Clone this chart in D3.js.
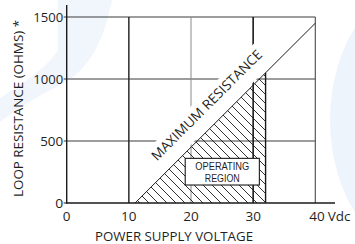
<!DOCTYPE html>
<html>
<head>
<meta charset="utf-8">
<script src="https://cdn.jsdelivr.net/npm/d3@7"></script>
<style>
  html, body { margin: 0; padding: 0; background: #fff; }
  svg { display: block; }
  text { font-family: "Open Sans", "Liberation Sans", sans-serif; font-weight: 400; fill: #1f1f1f; }
  text.box { font-family: "Liberation Sans", Arial, sans-serif; }
</style>
</head>
<body>
<script>
// ---- data ----
const xTicks = [0, 10, 20, 30, 40];
const yTicks = [0, 500, 1000, 1500];
const xUnit = "Vdc";
const xTitle = "POWER SUPPLY VOLTAGE";
const yTitle = "LOOP RESISTANCE (OHMS) *";
const maxResistance = [[11, 0], [40, 1450]];          // volts, ohms
const operatingRegion = [[11, 0], [32, 1050], [32, 0]];
const operatingLimitV = 32;
const maxLabel = "MAXIMUM RESISTANCE";
const regionLabel = ["OPERATING", "REGION"];

// ---- layout ----
const W = 355, H = 244;
const svg = d3.select("body").append("svg").attr("width", W).attr("height", H);

const x = d3.scaleLinear().domain([0, 40]).range([66.7, 315.3]);
const y = d3.scaleLinear().domain([0, 1500]).range([203, 17]);

// faint background watermark
const bg = svg.append("g");
bg.append("ellipse").attr("cx", 430).attr("cy", 120).attr("rx", 100).attr("ry", 140).attr("fill", "#eef4fb");
bg.append("path").attr("d", "M58,0 L112,0 C104,40 90,70 60,85 C40,95 15,110 0,122 L0,98 C20,85 45,70 58,50 Z")
  .attr("fill", "#f1f6fc");

// defs: hatch pattern
const defs = svg.append("defs");
const sp = 9;
const pat = defs.append("pattern").attr("id", "hatch").attr("patternUnits", "userSpaceOnUse")
  .attr("width", sp).attr("height", sp);
pat.append("path").attr("d", `M0,0 L${sp},${sp} M${-sp/2},${sp/2} L${sp/2},${sp*1.5} M${sp/2},${-sp/2} L${sp*1.5},${sp/2}`)
  .attr("stroke", "#1a1a1a").attr("stroke-width", 0.9);

// grid
const grid = svg.append("g");
yTicks.filter(d => d > 0).forEach(d => {
  grid.append("line").attr("x1", x(0) - 3).attr("x2", x(40)).attr("y1", y(d)).attr("y2", y(d))
    .attr("stroke", "#3a3a3a").attr("stroke-width", 1);
});
const vStyle = {10: ["#2a2a2a", 1.5], 20: ["#8a8a8a", 1], 30: ["#1a1a1a", 1.6], 40: ["#4a4a4a", 1.1]};
xTicks.filter(d => d > 0).forEach(d => {
  grid.append("line").attr("x1", x(d)).attr("x2", x(d)).attr("y1", y(0)).attr("y2", y(1500))
    .attr("stroke", vStyle[d][0]).attr("stroke-width", vStyle[d][1]);
});

// axes lines
svg.append("line").attr("x1", x(0)).attr("x2", x(0)).attr("y1", 5).attr("y2", y(0) + 0.7)
  .attr("stroke", "#1a1a1a").attr("stroke-width", 1.4);
svg.append("line").attr("x1", x(0)).attr("x2", 335).attr("y1", y(0)).attr("y2", y(0))
  .attr("stroke", "#1a1a1a").attr("stroke-width", 1.4);

// line geometry
const [p0, p1] = maxResistance;
const rAt = v => p0[1] + (p1[1] - p0[1]) * (v - p0[0]) / (p1[0] - p0[0]);
const ang = Math.atan2(y(p1[1]) - y(p0[1]), x(p1[0]) - x(p0[0])) * 180 / Math.PI;
const v0 = 16;

// white band behind the label
svg.append("rect")
  .attr("transform", `translate(${x(v0)},${y(rAt(v0))}) rotate(${ang})`)
  .attr("x", -8).attr("y", -29).attr("width", 166).attr("height", 27)
  .attr("fill", "#fff");

// hatched operating region
svg.append("path")
  .attr("d", d3.line().x(d => x(d[0])).y(d => y(d[1]))(operatingRegion) + "Z")
  .attr("fill", "url(#hatch)").attr("stroke", "none");

// operating limit line (32 V)
svg.append("line").attr("x1", x(operatingLimitV)).attr("x2", x(operatingLimitV))
  .attr("y1", y(0)).attr("y2", y(rAt(operatingLimitV)))
  .attr("stroke", "#1a1a1a").attr("stroke-width", 1.4);

// maximum resistance line
svg.append("path")
  .attr("d", d3.line().x(d => x(d[0])).y(d => y(d[1]))(maxResistance))
  .attr("stroke", "#1a1a1a").attr("stroke-width", 1).attr("fill", "none");

// label along line
svg.append("text")
  .attr("transform", `translate(${x(v0)},${y(rAt(v0))}) rotate(${ang})`)
  .attr("x", 1).attr("y", -14)
  .attr("font-size", 13.5)
  .attr("textLength", 150).attr("lengthAdjust", "spacingAndGlyphs")
  .text(maxLabel);

// operating region box
const bx0 = x(19.07), bx1 = x(31.0), by0 = y(360), by1 = y(145);
svg.append("rect").attr("x", bx0).attr("y", by0).attr("width", bx1 - bx0).attr("height", by1 - by0)
  .attr("fill", "#fff").attr("stroke", "#1a1a1a").attr("stroke-width", 1.1);
const bcx = (bx0 + bx1) / 2;
svg.append("text").attr("class", "box").attr("x", bcx).attr("y", by0 + 12).attr("text-anchor", "middle").attr("font-size", 10)
  .attr("textLength", 54).attr("lengthAdjust", "spacingAndGlyphs").text(regionLabel[0]);
svg.append("text").attr("class", "box").attr("x", bcx).attr("y", by0 + 23.5).attr("text-anchor", "middle").attr("font-size", 10)
  .attr("textLength", 35).attr("lengthAdjust", "spacingAndGlyphs").text(regionLabel[1]);

// y tick labels
yTicks.forEach(d => {
  svg.append("text").attr("x", x(0) - 3.5).attr("y", y(d) + 5).attr("text-anchor", "end")
    .attr("font-size", 13.5).attr("textLength", d === 0 ? 8 : (d >= 1000 ? 30 : 23))
    .attr("lengthAdjust", "spacingAndGlyphs").text(d);
});
svg.append("line").attr("x1", x(0) - 3).attr("x2", x(0)).attr("y1", y(0)).attr("y2", y(0))
  .attr("stroke", "#1a1a1a").attr("stroke-width", 1);

// x tick labels
xTicks.forEach(d => {
  if (d === 40) {
    const t = svg.append("text").attr("x", x(d) - 6).attr("y", 221).attr("font-size", 13.5);
    t.append("tspan").text(d);
    t.append("tspan").attr("dx", 3).text(xUnit);
  } else {
    svg.append("text").attr("x", x(d)).attr("y", 221).attr("text-anchor", "middle")
      .attr("font-size", 13.5).text(d);
  }
});

// axis titles
svg.append("text").attr("x", 174).attr("y", 241).attr("text-anchor", "middle")
  .attr("font-size", 13.5).attr("textLength", 158).attr("lengthAdjust", "spacingAndGlyphs").text(xTitle);
svg.append("text").attr("transform", "translate(23,108.5) rotate(-90)").attr("text-anchor", "middle")
  .attr("font-size", 13.5).attr("textLength", 177).attr("lengthAdjust", "spacingAndGlyphs").text(yTitle);
</script>
</body>
</html>
